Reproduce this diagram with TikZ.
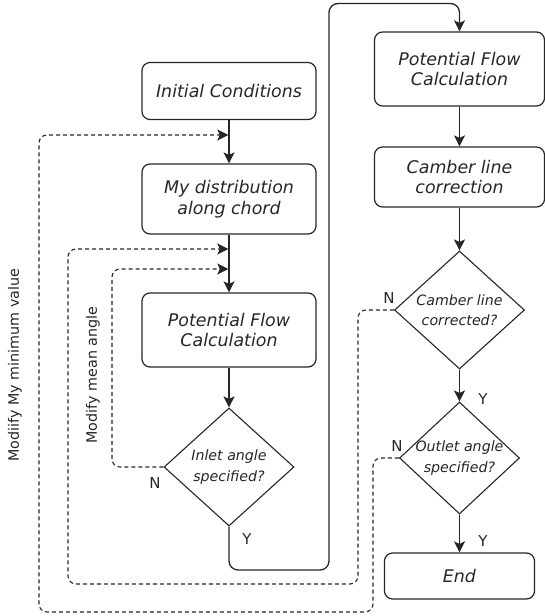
\documentclass[tikz,border=0pt]{standalone}
\usepackage{fontspec}
\setmainfont{DejaVu Sans}
\usetikzlibrary{shapes.geometric,arrows.meta}
\definecolor{ink}{HTML}{262626}
\begin{document}
\begin{tikzpicture}[x=1pt,y=-1pt,
  box/.style={draw=ink, line width=1.2pt, rounded corners=8pt, minimum width=174pt,
    align=center, inner sep=0pt, text=ink, font=\fontsize{17.4}{20.7}\selectfont\itshape},
  dia/.style={draw=ink, line width=1.1pt, diamond, inner sep=0pt, aspect=1},
  dtext/.style={align=center, text=ink, inner sep=0pt, font=\fontsize{14.2}{20.3}\selectfont\itshape},
  lab/.style={text=ink, inner sep=0pt, font=\fontsize{15}{18}\selectfont},
  rot/.style={text=ink, inner sep=0pt, rotate=90, font=\fontsize{14.3}{17}\selectfont},
  arr/.style={draw=ink, line width=1.3pt, -{Stealth[length=11pt,width=11pt,inset=2.5pt]}},
  darr/.style={draw=ink, line width=1.1pt, dash pattern=on 4pt off 3pt, rounded corners=8pt,
    -{Stealth[length=11pt,width=11pt,inset=2.5pt]}, shorten >=0.7pt}
]
\useasboundingbox (0,0) rectangle (545,616);

% left column
\node[box, minimum height=57pt] (ic) at (229,91) {Initial Conditions};
\node[box, minimum height=70pt] (md) at (229,199) {My distribution\\along chord};
\node[box, minimum height=74pt] (pf1) at (229,330) {Potential Flow\\Calculation};
\node[dia, minimum width=130pt, minimum height=118pt,
  label={[dtext]center:{Inlet angle\\specified?}}] (inlet) at (229,467) {};

% right column
\node[box, minimum width=170pt, minimum height=74pt] (pf2) at (459.5,69) {Potential Flow\\Calculation};
\node[box, minimum width=170pt, minimum height=60pt] (cl) at (459.5,177) {Camber line\\correction};
\node[dia, minimum width=130pt, minimum height=118pt,
  label={[dtext]center:{Camber line\\corrected?}}] (camb) at (459.5,310) {};
\node[dia, minimum width=120pt, minimum height=112pt,
  label={[dtext]center:{Outlet angle\\specified?}}] (outlet) at (459.5,458) {};
\node[box, minimum width=150pt, minimum height=46pt] (end) at (459.5,576) {End};

% solid connectors
\draw[arr] (ic) -- (md);
\draw[arr] (md) -- (pf1);
\draw[arr] (pf1) -- (inlet);
\coordinate (y1) at (229,570);
\coordinate (y2) at (329,570);
\coordinate (y3) at (329,3.5);
\coordinate (y4) at (459.5,3.5);
\draw[arr, rounded corners=9pt] (inlet.south) -- (y1) -- (y2) -- (y3) -- (y4) -- (pf2.north);
\draw[arr] (pf2) -- (cl);
\draw[arr] (cl) -- (camb);
\draw[arr] (camb) -- (outlet);
\draw[arr] (outlet) -- (end);

% dashed feedback connectors
\coordinate (a1) at (112,467);
\coordinate (a2) at (112,269);
\coordinate (a3) at (229,269);
\draw[darr] (inlet.west) -- (a1) -- (a2) -- (a3);
\coordinate (b1) at (358,310);
\coordinate (b2) at (358,584);
\coordinate (b3) at (68,584);
\coordinate (b4) at (68,249);
\coordinate (b5) at (229,249);
\draw[darr] (camb.west) -- (b1) -- (b2) -- (b3) -- (b4) -- (b5);
\coordinate (c1) at (373,458);
\coordinate (c2) at (373,612);
\coordinate (c3) at (39,612);
\coordinate (c4) at (39,135);
\coordinate (c5) at (229,135);
\draw[darr] (outlet.west) -- (c1) -- (c2) -- (c3) -- (c4) -- (c5);

% labels
\node[lab] (n1) at (155,483) {N};
\node[lab] (y1l) at (247,539) {Y};
\node[lab] (n2) at (389,298) {N};
\node[lab] (y2l) at (483,399) {Y};
\node[lab] (n3) at (397,446) {N};
\node[lab] (y3l) at (483,541) {Y};
\node[rot] (t1) at (15,365) {Modiify My minimum value};
\node[rot] (t2) at (93,375) {Modify mean angle};
\end{tikzpicture}
\end{document}
